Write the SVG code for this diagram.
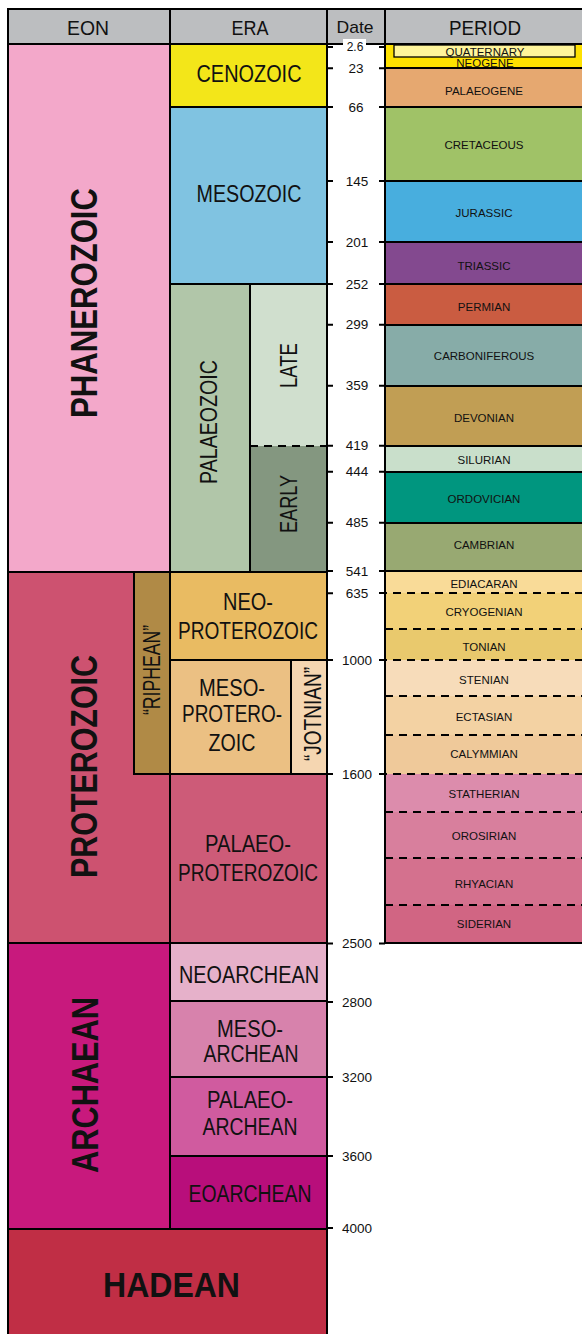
<svg xmlns="http://www.w3.org/2000/svg" width="582" height="1334" viewBox="0 0 582 1334">
<style>
.c{stroke:#000;stroke-width:2}
.n{stroke:none}
.t{font-family:"Liberation Sans",Arial,sans-serif;fill:#111;text-anchor:middle}
.hdr{font-size:21px}
.eon{font-size:37px;font-weight:bold}
.era{font-size:23px}
.per{font-size:11.5px}
.dt{font-size:13.5px}
.ln{stroke:#000;stroke-width:2;fill:none}
.dash{stroke:#000;stroke-width:2;stroke-dasharray:8 6;fill:none}
</style>
<rect x="0" y="0" width="582" height="1334" fill="#fff"/>

<g id="header">
<rect class="c" x="8" y="9" width="162" height="35" fill="#bcbec0"/>
<rect class="c" x="170" y="9" width="157" height="35" fill="#bcbec0"/>
<rect class="c" x="327" y="9" width="58" height="35" fill="#bcbec0"/>
<rect class="c" x="385" y="9" width="200" height="35" fill="#bcbec0"/>
<text class="t hdr" x="88" y="35" textLength="42" lengthAdjust="spacingAndGlyphs">EON</text>
<text class="t hdr" x="250" y="35" textLength="37" lengthAdjust="spacingAndGlyphs">ERA</text>
<text class="t" x="355" y="33" font-size="17" textLength="37" lengthAdjust="spacingAndGlyphs">Date</text>
<text class="t hdr" x="485" y="35" textLength="72" lengthAdjust="spacingAndGlyphs">PERIOD</text>
</g>

<g id="date-column">
<rect class="n" x="327" y="45" width="58" height="898" fill="#fff"/>
<path class="ln" d="M385 44V944"/>
</g>

<!-- EONS -->
<g id="eon-phanerozoic">
<rect class="c" x="8" y="44" width="162" height="528" fill="#f3a8ca"/>
<text class="t eon" transform="translate(97,303) rotate(-90)" textLength="230" lengthAdjust="spacingAndGlyphs">PHANEROZOIC</text>
</g>
<g id="eon-proterozoic">
<rect class="c" x="8" y="572" width="162" height="371" fill="#cd5270"/>
<text class="t eon" transform="translate(97,766.5) rotate(-90)" textLength="223" lengthAdjust="spacingAndGlyphs">PROTEROZOIC</text>
</g>
<g id="riphean">
<rect class="c" x="134" y="572" width="36" height="202" fill="#b08a46"/>
<text class="t era" transform="translate(160,670) rotate(-90)" textLength="90" lengthAdjust="spacingAndGlyphs">“RIPHEAN”</text>
</g>
<g id="eon-archaean">
<rect class="c" x="8" y="943" width="162" height="286" fill="#c8197d"/>
<text class="t eon" transform="translate(98,1085) rotate(-90)" textLength="176" lengthAdjust="spacingAndGlyphs">ARCHAEAN</text>
</g>
<g id="eon-hadean">
<rect class="c" x="8" y="1229" width="319" height="110" fill="#c02e45"/>
<text class="t" x="171.5" y="1297" font-size="35" font-weight="bold" textLength="137" lengthAdjust="spacingAndGlyphs">HADEAN</text>
</g>

<!-- ERAS -->
<g id="era-cenozoic">
<rect class="c" x="170" y="44" width="157" height="63" fill="#f3e619"/>
<text class="t era" x="249" y="82" textLength="105" lengthAdjust="spacingAndGlyphs">CENOZOIC</text>
</g>
<g id="era-mesozoic">
<rect class="c" x="170" y="107" width="157" height="177" fill="#80c3e1"/>
<text class="t era" x="249" y="202" textLength="105" lengthAdjust="spacingAndGlyphs">MESOZOIC</text>
</g>
<g id="era-palaeozoic">
<rect class="c" x="170" y="284" width="80" height="288" fill="#b1c6a9"/>
<text class="t era" transform="translate(217,422) rotate(-90)" textLength="124" lengthAdjust="spacingAndGlyphs">PALAEOZOIC</text>
</g>
<g id="era-late">
<rect class="n" x="250" y="284" width="77" height="162" fill="#d0dfce"/>
<text class="t era" transform="translate(297,365.5) rotate(-90)" textLength="45" lengthAdjust="spacingAndGlyphs">LATE</text>
</g>
<g id="era-early">
<rect class="n" x="250" y="446" width="77" height="126" fill="#849780"/>
<text class="t era" transform="translate(297,504) rotate(-90)" textLength="58" lengthAdjust="spacingAndGlyphs">EARLY</text>
</g>
<g id="era-neoproterozoic">
<rect class="c" x="170" y="572" width="157" height="88" fill="#e9bb62"/>
<text class="t era" x="248" y="610" textLength="50" lengthAdjust="spacingAndGlyphs">NEO-</text>
<text class="t era" x="248" y="639" textLength="140" lengthAdjust="spacingAndGlyphs">PROTEROZOIC</text>
</g>
<g id="era-mesoproterozoic">
<rect class="c" x="170" y="660" width="121" height="114" fill="#ebc083"/>
<text class="t era" x="232" y="696" textLength="66" lengthAdjust="spacingAndGlyphs">MESO-</text>
<text class="t era" x="232" y="722" textLength="100" lengthAdjust="spacingAndGlyphs">PROTERO-</text>
<text class="t era" x="232" y="751" textLength="47" lengthAdjust="spacingAndGlyphs">ZOIC</text>
</g>
<g id="jotnian">
<rect class="c" x="291" y="660" width="36" height="114" fill="#f5d6b1"/>
<text class="t era" transform="translate(321,714) rotate(-90)" textLength="94" lengthAdjust="spacingAndGlyphs">“JOTNIAN”</text>
</g>
<g id="era-palaeoproterozoic">
<rect class="c" x="170" y="774" width="157" height="169" fill="#cd5b78"/>
<text class="t era" x="248" y="852" textLength="86" lengthAdjust="spacingAndGlyphs">PALAEO-</text>
<text class="t era" x="248" y="881" textLength="140" lengthAdjust="spacingAndGlyphs">PROTEROZOIC</text>
</g>
<g id="era-neoarchean">
<rect class="c" x="170" y="943" width="157" height="58" fill="#e6b1ca"/>
<text class="t era" x="249" y="983" textLength="140" lengthAdjust="spacingAndGlyphs">NEOARCHEAN</text>
</g>
<g id="era-mesoarchean">
<rect class="c" x="170" y="1001" width="157" height="76" fill="#d782ac"/>
<text class="t era" x="250" y="1037" textLength="66" lengthAdjust="spacingAndGlyphs">MESO-</text>
<text class="t era" x="251" y="1062" textLength="95" lengthAdjust="spacingAndGlyphs">ARCHEAN</text>
</g>
<g id="era-palaeoarchean">
<rect class="c" x="170" y="1077" width="157" height="79" fill="#d05b9f"/>
<text class="t era" x="250" y="1108" textLength="86" lengthAdjust="spacingAndGlyphs">PALAEO-</text>
<text class="t era" x="250" y="1135" textLength="95" lengthAdjust="spacingAndGlyphs">ARCHEAN</text>
</g>
<g id="era-eoarchean">
<rect class="c" x="170" y="1156" width="157" height="73" fill="#b80e7b"/>
<text class="t era" x="250" y="1202" textLength="123" lengthAdjust="spacingAndGlyphs">EOARCHEAN</text>
</g>

<!-- PERIODS -->
<g id="period-neogene">
<rect class="c" x="385" y="44" width="200" height="24" fill="#fee100"/>
<text class="t per" x="485" y="67">NEOGENE</text>
</g>
<g id="period-quaternary">
<rect x="394" y="45" width="181" height="12" fill="#fff59b" stroke="#000" stroke-width="1.3"/>
<text class="t per" x="485" y="56">QUATERNARY</text>
</g>
<g id="period-palaeogene">
<rect class="c" x="385" y="68" width="200" height="39" fill="#e6a870"/>
<text class="t per" x="484" y="95">PALAEOGENE</text>
</g>
<g id="period-cretaceous">
<rect class="c" x="385" y="107" width="200" height="74" fill="#a0c267"/>
<text class="t per" x="484" y="148.5">CRETACEOUS</text>
</g>
<g id="period-jurassic">
<rect class="c" x="385" y="181" width="200" height="61" fill="#48aede"/>
<text class="t per" x="484" y="216.5">JURASSIC</text>
</g>
<g id="period-triassic">
<rect class="c" x="385" y="242" width="200" height="42" fill="#83498f"/>
<text class="t per" x="484" y="269.5">TRIASSIC</text>
</g>
<g id="period-permian">
<rect class="c" x="385" y="284" width="200" height="41" fill="#ca5c41"/>
<text class="t per" x="484" y="311">PERMIAN</text>
</g>
<g id="period-carboniferous">
<rect class="c" x="385" y="325" width="200" height="61" fill="#87aca8"/>
<text class="t per" x="484" y="360">CARBONIFEROUS</text>
</g>
<g id="period-devonian">
<rect class="c" x="385" y="386" width="200" height="60" fill="#c19e54"/>
<text class="t per" x="484" y="422">DEVONIAN</text>
</g>
<g id="period-silurian">
<rect class="c" x="385" y="446" width="200" height="26" fill="#c9dfcb"/>
<text class="t per" x="484" y="464">SILURIAN</text>
</g>
<g id="period-ordovician">
<rect class="c" x="385" y="472" width="200" height="51" fill="#00967f"/>
<text class="t per" x="484" y="503">ORDOVICIAN</text>
</g>
<g id="period-cambrian">
<rect class="c" x="385" y="523" width="200" height="48" fill="#98a972"/>
<text class="t per" x="484" y="549">CAMBRIAN</text>
</g>
<g id="period-ediacaran">
<rect class="n" x="385" y="571" width="200" height="22" fill="#f9db98"/>
<text class="t per" x="484" y="588">EDIACARAN</text>
</g>
<g id="period-cryogenian">
<rect class="n" x="385" y="593" width="200" height="36" fill="#f2d178"/>
<text class="t per" x="484" y="616">CRYOGENIAN</text>
</g>
<g id="period-tonian">
<rect class="n" x="385" y="629" width="200" height="31" fill="#e9c96d"/>
<text class="t per" x="484" y="651">TONIAN</text>
</g>
<g id="period-stenian">
<rect class="n" x="385" y="660" width="200" height="36" fill="#f7dcba"/>
<text class="t per" x="484" y="684">STENIAN</text>
</g>
<g id="period-ectasian">
<rect class="n" x="385" y="696" width="200" height="39" fill="#f3d2a3"/>
<text class="t per" x="484" y="721">ECTASIAN</text>
</g>
<g id="period-calymmian">
<rect class="n" x="385" y="735" width="200" height="39" fill="#efc99a"/>
<text class="t per" x="484" y="758">CALYMMIAN</text>
</g>
<g id="period-statherian">
<rect class="n" x="385" y="774" width="200" height="38" fill="#dc8cac"/>
<text class="t per" x="484" y="798">STATHERIAN</text>
</g>
<g id="period-orosirian">
<rect class="n" x="385" y="812" width="200" height="46" fill="#d87f9d"/>
<text class="t per" x="484" y="840">OROSIRIAN</text>
</g>
<g id="period-rhyacian">
<rect class="n" x="385" y="858" width="200" height="47" fill="#d4718e"/>
<text class="t per" x="484" y="888">RHYACIAN</text>
</g>
<g id="period-siderian">
<rect class="n" x="385" y="905" width="200" height="38" fill="#d16583"/>
<text class="t per" x="484" y="928">SIDERIAN</text>
</g>

<g id="lines">
<rect class="ln" x="250" y="284" width="77" height="288"/>
<path class="dash" d="M250 446H327"/>
<rect class="ln" x="385" y="571" width="200" height="372"/>
<path class="dash" d="M379 593H582M385 629H582M379 660H582M385 696H582M385 735H582M379 774H582M385 812H582M385 858H582M385 905H582"/>
<path class="ln" d="M327 9V1334M8 9V1334"/>
<path class="ln" d="M327 47h6M379 47h6M327 68.3h6M379 68.3h6M327 107h6M379 107h6M327 181h6M379 181h6M327 242h6M379 242h6M327 284h6M379 284h6M327 324.7h6M379 324.7h6M327 385.7h6M379 385.7h6M327 445.7h6M379 445.7h6M327 471.7h6M379 471.7h6M327 522.7h6M379 522.7h6M327 571h6M379 571h6M327 593.3h6M327 660h6M327 774h6M327 943.5h6M379 943.5h6M327 1002h6M327 1077h6M327 1156h6M327 1228h6"/>
</g>

<g id="dates">
<rect x="343" y="39" width="23" height="13" fill="#fff"/>
<text class="t" x="355" y="50.5" font-size="12">2.6</text>
<text class="t dt" x="356" y="73">23</text>
<text class="t dt" x="356" y="111.5">66</text>
<text class="t dt" x="357" y="185.7">145</text>
<text class="t dt" x="357" y="246.7">201</text>
<text class="t dt" x="357" y="288.7">252</text>
<text class="t dt" x="357" y="329.4">299</text>
<text class="t dt" x="357" y="390.4">359</text>
<text class="t dt" x="357" y="450.4">419</text>
<text class="t dt" x="357" y="476.4">444</text>
<text class="t dt" x="357" y="527.4">485</text>
<text class="t dt" x="357" y="575.7">541</text>
<text class="t dt" x="357" y="598">635</text>
<text class="t dt" x="357" y="664.7">1000</text>
<text class="t dt" x="357" y="778.7">1600</text>
<text class="t dt" x="357" y="948.2">2500</text>
<text class="t dt" x="357" y="1006.7">2800</text>
<text class="t dt" x="357" y="1081.7">3200</text>
<text class="t dt" x="357" y="1160.7">3600</text>
<text class="t dt" x="357" y="1232.7">4000</text>
</g>
</svg>
